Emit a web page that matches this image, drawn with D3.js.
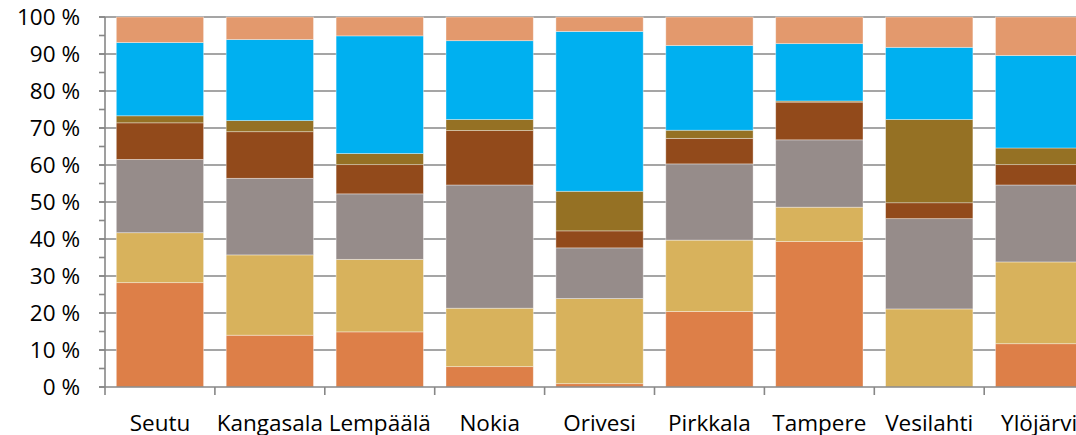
<!DOCTYPE html>
<html>
<head>
<meta charset="utf-8">
<script src="https://cdn.jsdelivr.net/npm/d3@7"></script>
<style>
  html, body { margin: 0; padding: 0; background: #fff; overflow: hidden; }
  svg { display: block; font-family: "Open Sans", Lato, sans-serif; }
</style>
</head>
<body>
<svg id="chart" width="1076" height="435"></svg>
<script>
// Municipalities (x categories)
const categories = ["Seutu", "Kangasala", "Lempäälä", "Nokia", "Orivesi", "Pirkkala", "Tampere", "Vesilahti", "Ylöjärvi"];

// Shares per municipality, percent, bottom segment first
const series1 = [28.2, 14.0, 14.9, 5.5, 0.9, 20.4, 39.3, 0.0, 11.7];
const series2 = [13.5, 21.7, 19.6, 15.8, 23.0, 19.3, 9.3, 21.1, 22.1];
const series3 = [19.8, 20.7, 17.7, 33.3, 13.7, 20.6, 18.2, 24.4, 20.8];
const series4 = [9.9, 12.6, 7.9, 14.7, 4.6, 6.9, 10.2, 4.3, 5.5];
const series5 = [1.9, 3.0, 3.0, 3.0, 10.7, 2.2, 0.3, 22.5, 4.5];
const series6 = [19.8, 21.9, 31.8, 21.3, 43.2, 22.9, 15.5, 19.5, 25.0];
const series7 = [6.9, 6.1, 5.1, 6.4, 3.9, 7.7, 7.2, 8.2, 10.4];

const yTicks = [0, 10, 20, 30, 40, 50, 60, 70, 80, 90, 100];
const yTickLabels = yTicks.map(v => v + " %");

const seriesList = [series1, series2, series3, series4, series5, series6, series7];
const keys = seriesList.map((_, i) => "s" + (i + 1));
const colors = ["#DD7F48", "#D8B25C", "#968C8A", "#924A1B", "#957124", "#00B0F0", "#E3996D"];

const rows = categories.map((c, j) => {
  const r = { category: c };
  seriesList.forEach((s, i) => { r[keys[i]] = s[j]; });
  return r;
});
const stacked = d3.stack().keys(keys).offset(d3.stackOffsetExpand)(rows);

const svg = d3.select("#chart");
const plotLeft = 105, plotTop = 17, plotBottom = 387, step = 109.9;

const x = d3.scaleBand()
  .domain(categories)
  .range([plotLeft, plotLeft + step * categories.length])
  .paddingInner(0.2057)
  .paddingOuter(0.1029);
const y = d3.scaleLinear().domain([0, 1]).range([plotBottom, plotTop]);

// Horizontal gridlines
svg.append("g")
  .selectAll("line")
  .data(yTicks.filter(v => v > 0))
  .join("line")
  .attr("x1", 99).attr("x2", 1076)
  .attr("y1", d => y(d / 100)).attr("y2", d => y(d / 100))
  .attr("stroke", "#878787").attr("stroke-width", 1.6);

// Stacked bars
svg.append("g")
  .selectAll("g")
  .data(stacked)
  .join("g")
  .attr("fill", (d, i) => colors[i])
  .selectAll("rect")
  .data(d => d)
  .join("rect")
  .attr("x", d => x(d.data.category))
  .attr("width", x.bandwidth())
  .attr("y", d => y(d[1]))
  .attr("height", d => Math.max(0, y(d[0]) - y(d[1])))
  .attr("stroke", "rgba(255,255,255,0.45)")
  .attr("stroke-width", 0.8);

// Y axis line with major and minor ticks
const axisColor = "#878787";
svg.append("line")
  .attr("x1", plotLeft).attr("x2", plotLeft)
  .attr("y1", plotTop).attr("y2", plotBottom)
  .attr("stroke", axisColor).attr("stroke-width", 1.6);
svg.append("g")
  .selectAll("line")
  .data(d3.range(0, 101, 5))
  .join("line")
  .attr("x1", 99).attr("x2", plotLeft)
  .attr("y1", d => y(d / 100)).attr("y2", d => y(d / 100))
  .attr("stroke", axisColor).attr("stroke-width", 1.6);

// X axis baseline and category boundary ticks
svg.append("line")
  .attr("x1", 99).attr("x2", 1076)
  .attr("y1", plotBottom).attr("y2", plotBottom)
  .attr("stroke", axisColor).attr("stroke-width", 1.6);
svg.append("g")
  .selectAll("line")
  .data(d3.range(categories.length + 1))
  .join("line")
  .attr("x1", i => plotLeft + i * step).attr("x2", i => plotLeft + i * step)
  .attr("y1", plotBottom).attr("y2", plotBottom + 8)
  .attr("stroke", axisColor).attr("stroke-width", 1.6);

// Y tick labels
svg.append("g")
  .selectAll("text")
  .data(yTicks)
  .join("text")
  .attr("x", 80)
  .attr("y", d => y(d / 100) + 8.3)
  .attr("text-anchor", "end")
  .attr("font-size", 22.5)
  .attr("fill", "#000")
  .text((d, i) => yTickLabels[i]);

// Category labels
svg.append("g")
  .selectAll("text")
  .data(categories)
  .join("text")
  .attr("x", d => x(d) + x.bandwidth() / 2)
  .attr("y", 431)
  .attr("text-anchor", "middle")
  .attr("font-size", 22.5)
  .attr("fill", "#000")
  .text(d => d);
</script>
</body>
</html>
